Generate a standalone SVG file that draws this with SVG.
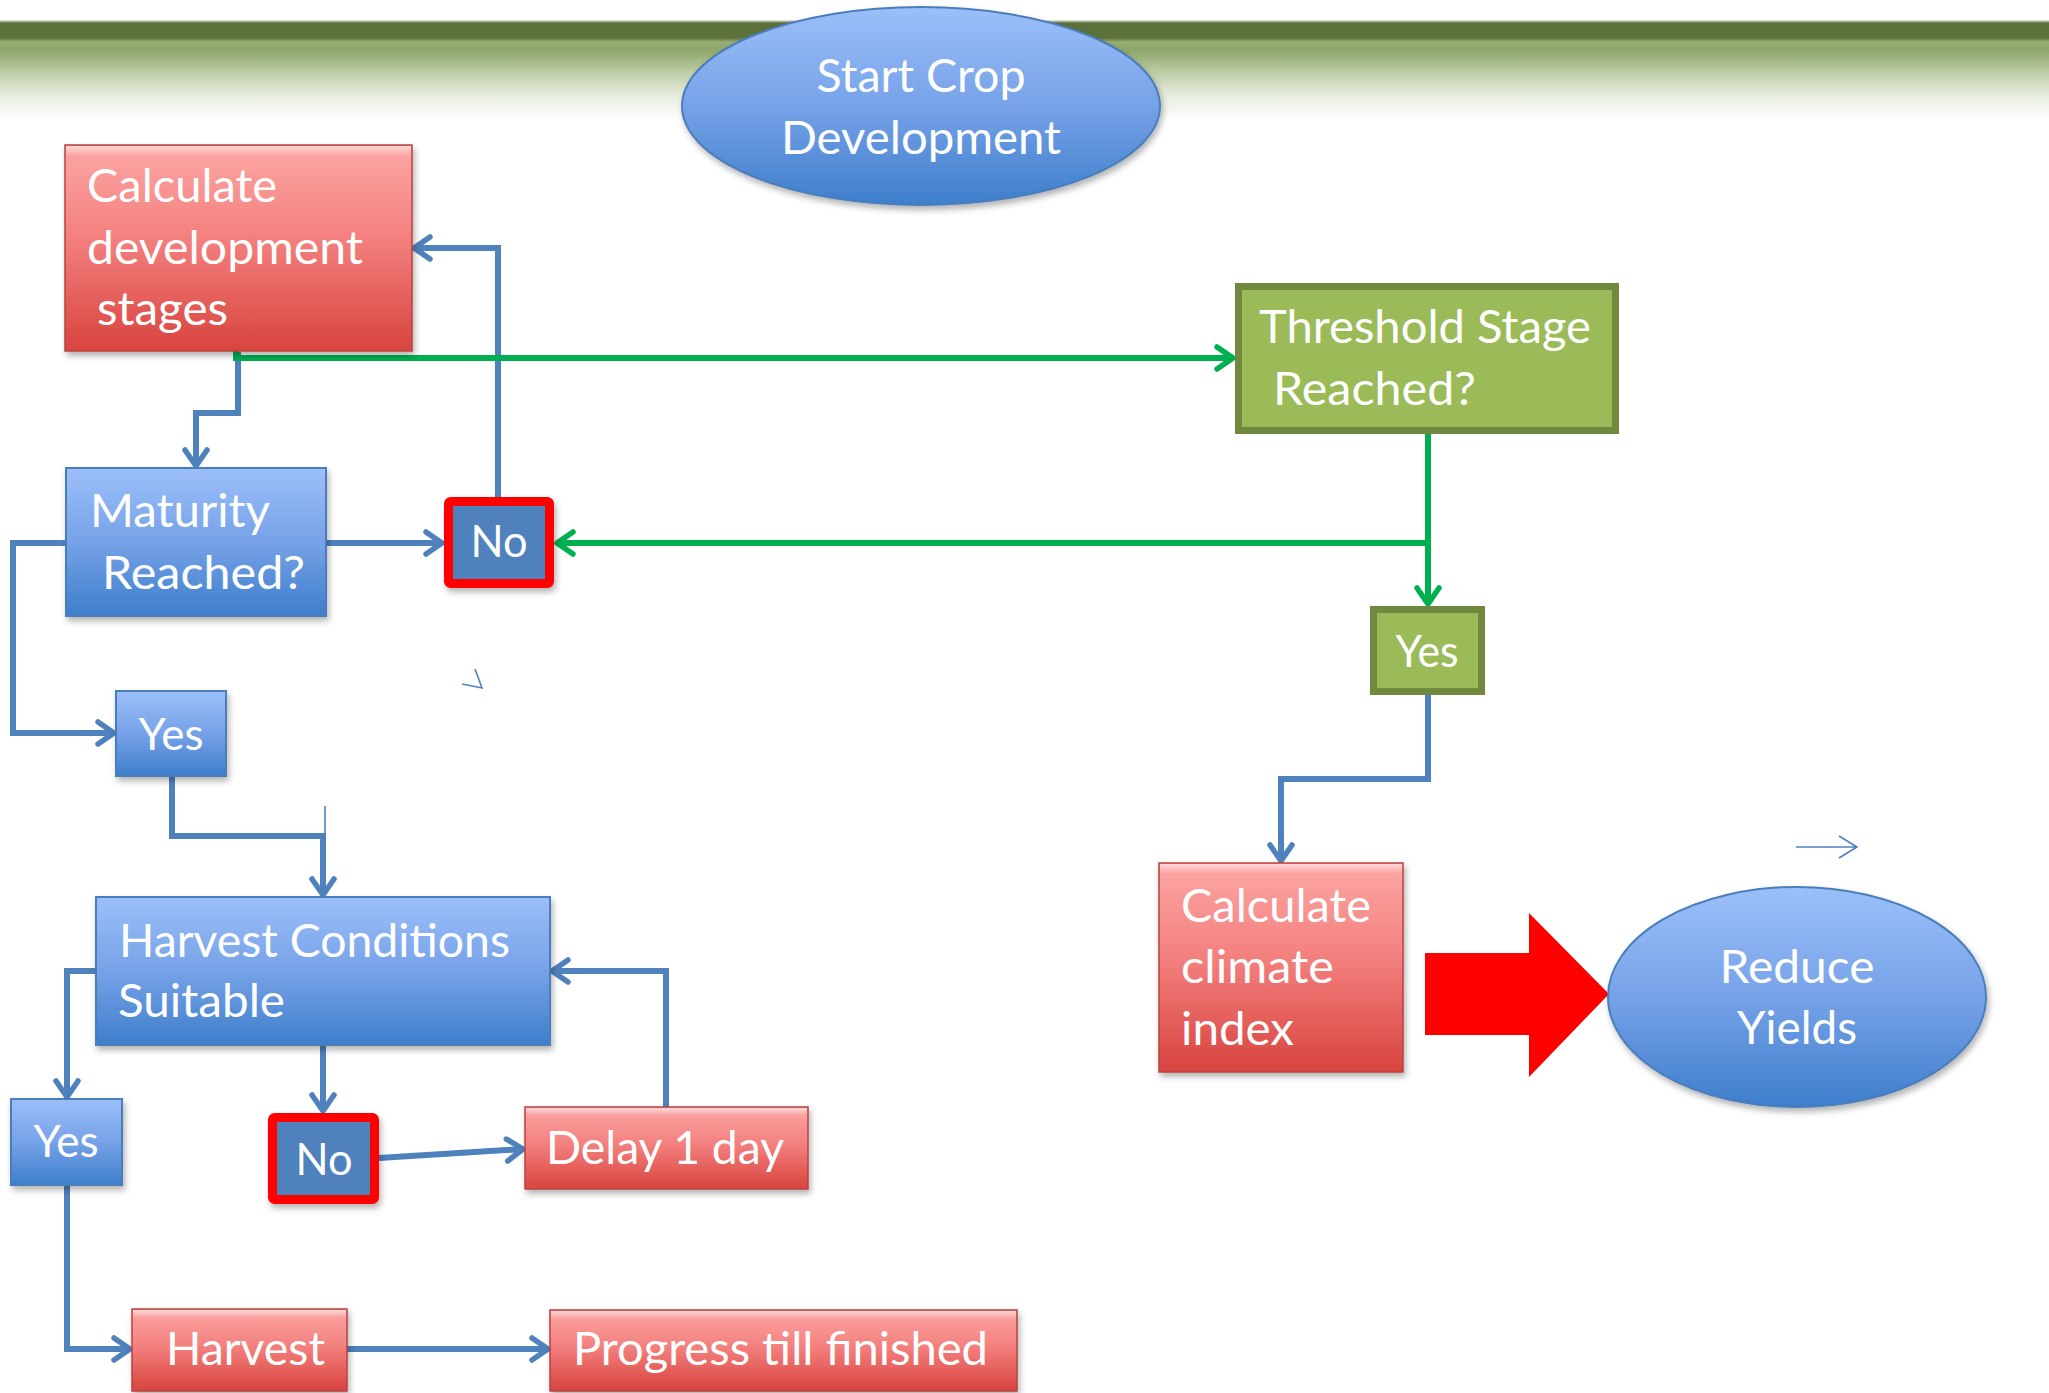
<svg xmlns="http://www.w3.org/2000/svg" width="2049" height="1393" viewBox="0 0 2049 1393">
<defs>
<linearGradient id="hdr" x1="0" y1="0" x2="0" y2="1">
<stop offset="0" stop-color="#f4f7ef"/>
<stop offset="0.03" stop-color="#5b6f3a"/>
<stop offset="0.18" stop-color="#5e723c"/>
<stop offset="0.22" stop-color="#9aae76"/>
<stop offset="0.3" stop-color="#8fa56a"/>
<stop offset="0.5" stop-color="#b9c9a0"/>
<stop offset="0.75" stop-color="#e6ecde"/>
<stop offset="1" stop-color="#ffffff"/>
</linearGradient>
<linearGradient id="red" x1="0" y1="0" x2="0" y2="1">
<stop offset="0" stop-color="#fca7a5"/>
<stop offset="0.45" stop-color="#f3807e"/>
<stop offset="1" stop-color="#d8443f"/>
</linearGradient>
<linearGradient id="blue" x1="0" y1="0" x2="0" y2="1">
<stop offset="0" stop-color="#9cbff9"/>
<stop offset="0.5" stop-color="#76a2e8"/>
<stop offset="1" stop-color="#3e7ecb"/>
</linearGradient>
<linearGradient id="hl" x1="0" y1="0" x2="0" y2="1">
<stop offset="0" stop-color="#ffffff" stop-opacity="0.55"/>
<stop offset="1" stop-color="#ffffff" stop-opacity="0"/>
</linearGradient>
<filter id="sh" x="-10%" y="-10%" width="130%" height="140%">
<feDropShadow dx="2" dy="4" stdDeviation="3" flood-color="#000" flood-opacity="0.3"/>
</filter>
<marker id="ab" viewBox="0 0 24 28" refX="20" refY="14" markerWidth="24" markerHeight="28" markerUnits="userSpaceOnUse" orient="auto">
<path d="M4,3 L20,14 L4,25" fill="none" stroke="#4f81bd" stroke-width="5.5" stroke-linecap="round" stroke-linejoin="round"/>
</marker>
<marker id="ag" viewBox="0 0 24 28" refX="20" refY="14" markerWidth="24" markerHeight="28" markerUnits="userSpaceOnUse" orient="auto">
<path d="M4,3 L20,14 L4,25" fill="none" stroke="#00b050" stroke-width="5.5" stroke-linecap="round" stroke-linejoin="round"/>
</marker>
</defs>
<style>
.t{font-family:Lato,"Liberation Sans",sans-serif;font-size:46px;fill:#ffffff;}
.s{font-family:Lato,"Liberation Sans",sans-serif;font-size:44px;fill:#ffffff;}
.rb{fill:url(#red);stroke:#b9423f;stroke-width:1.5;filter:url(#sh);}
.bb{fill:url(#blue);stroke:#4a7ebb;stroke-width:2;filter:url(#sh);}
.nb{fill:#4f81bd;stroke:#ff0000;stroke-width:9;filter:url(#sh);}
.gb{fill:#9bbb59;stroke:#71893f;stroke-width:7;}
.hl{fill:url(#hl);}
.cb{fill:none;stroke:#4f81bd;stroke-width:6;marker-end:url(#ab);}
.cg{fill:none;stroke:#00b050;stroke-width:6;}
.thin{fill:none;stroke:#4f81bd;stroke-width:1.6;}
</style>
<rect width="2049" height="1393" fill="#ffffff"/>
<rect x="0" y="20" width="2049" height="100" fill="url(#hdr)"/>

<g id="connectors">
<path class="cb" d="M238,352 V413 H196 V466"/>
<path class="cb" d="M498,497 V248 H414"/>
<path class="cb" d="M326,543 H442"/>
<path class="cb" d="M65,543 H13 V733 H114"/>
<path class="cb" d="M172,776 V836 H323 V895"/>
<path class="thin" d="M325,806 V836"/>
<path class="cb" d="M96,971 H67 V1097"/>
<path class="cb" d="M323,1045 V1111"/>
<path class="cb" d="M379,1158 L523,1149"/>
<path class="cb" d="M666,1107 V971 H552"/>
<path class="cb" d="M67,1185 V1349 H130"/>
<path class="cb" d="M347,1349 H548"/>
<path class="cb" d="M1428,695 V779 H1281 V861"/>
<path class="cg" d="M236,350 V358 H1233" marker-end="url(#ag)"/>
<path class="cg" d="M1428,433 V604" marker-end="url(#ag)"/>
<path class="cg" d="M1428,543 H557" marker-end="url(#ag)"/>
<path class="thin" d="M462,684 L482,688 L475,669"/>
<path class="thin" d="M1796,847 H1857 M1839,836 L1857,847 L1839,858"/>
</g>

<g id="block-arrow">
<polygon points="1425,953 1529,953 1529,913 1609,994 1529,1077 1529,1035 1425,1035" fill="#ff0000"/>
</g>

<g id="start">
<ellipse cx="921" cy="106" rx="239" ry="99" class="bb"/>
<text class="t" x="921" y="92" text-anchor="middle" textLength="209" lengthAdjust="spacingAndGlyphs">Start Crop</text>
<text class="t" x="921" y="154" text-anchor="middle" textLength="280" lengthAdjust="spacingAndGlyphs">Development</text>
</g>

<g id="calc-dev">
<rect x="65" y="145" width="347" height="206" class="rb"/>
<rect x="66" y="146" width="345" height="10" class="hl"/>
<text class="t" x="87" y="202" textLength="190" lengthAdjust="spacingAndGlyphs">Calculate</text>
<text class="t" x="87" y="264" textLength="276" lengthAdjust="spacingAndGlyphs">development</text>
<text class="t" x="97" y="325" textLength="131" lengthAdjust="spacingAndGlyphs">stages</text>
</g>

<g id="maturity">
<rect x="66" y="468" width="260" height="148" class="bb"/>
<text class="t" x="90" y="527" textLength="180" lengthAdjust="spacingAndGlyphs">Maturity</text>
<text class="t" x="102" y="589" textLength="203" lengthAdjust="spacingAndGlyphs">Reached?</text>
</g>

<g id="no1">
<rect x="448.5" y="501.5" width="101" height="82" rx="2" class="nb"/>
<text class="s" x="499" y="557" text-anchor="middle" textLength="57" lengthAdjust="spacingAndGlyphs">No</text>
</g>

<g id="threshold">
<rect x="1238.5" y="286.5" width="377" height="144" class="gb"/>
<text class="t" x="1259" y="343" textLength="332" lengthAdjust="spacingAndGlyphs">Threshold Stage</text>
<text class="t" x="1273" y="405" textLength="203" lengthAdjust="spacingAndGlyphs">Reached?</text>
</g>

<g id="yes-green">
<rect x="1373.5" y="609.5" width="108" height="82" class="gb"/>
<text class="s" x="1427" y="667" text-anchor="middle" textLength="63" lengthAdjust="spacingAndGlyphs">Yes</text>
</g>

<g id="yes1">
<rect x="116" y="691" width="110" height="85" class="bb"/>
<text class="s" x="171" y="750" text-anchor="middle" textLength="65" lengthAdjust="spacingAndGlyphs">Yes</text>
</g>

<g id="harvest-cond">
<rect x="96" y="897" width="454" height="148" class="bb"/>
<text class="t" x="119" y="957" textLength="391" lengthAdjust="spacingAndGlyphs">Harvest Conditions</text>
<text class="t" x="118" y="1017" textLength="167" lengthAdjust="spacingAndGlyphs">Suitable</text>
</g>

<g id="yes2">
<rect x="11" y="1099" width="111" height="86" class="bb"/>
<text class="s" x="66" y="1157" text-anchor="middle" textLength="65" lengthAdjust="spacingAndGlyphs">Yes</text>
</g>

<g id="no2">
<rect x="272.5" y="1117.5" width="102" height="82" rx="2" class="nb"/>
<text class="s" x="324" y="1175" text-anchor="middle" textLength="57" lengthAdjust="spacingAndGlyphs">No</text>
</g>

<g id="delay">
<rect x="525" y="1107" width="283" height="82" class="rb"/>
<rect x="526" y="1108" width="281" height="8" class="hl"/>
<text class="t" x="546" y="1164" textLength="238" lengthAdjust="spacingAndGlyphs">Delay 1 day</text>
</g>

<g id="harvest">
<rect x="132" y="1309" width="215" height="82" class="rb"/>
<rect x="133" y="1310" width="213" height="8" class="hl"/>
<text class="t" x="166" y="1365" textLength="159" lengthAdjust="spacingAndGlyphs">Harvest</text>
</g>

<g id="progress">
<rect x="550" y="1310" width="467" height="81" class="rb"/>
<rect x="551" y="1311" width="465" height="8" class="hl"/>
<text class="t" x="573" y="1365" textLength="415" lengthAdjust="spacingAndGlyphs">Progress till finished</text>
</g>

<g id="calc-climate">
<rect x="1159" y="863" width="244" height="209" class="rb"/>
<rect x="1160" y="864" width="242" height="10" class="hl"/>
<text class="t" x="1181" y="922" textLength="190" lengthAdjust="spacingAndGlyphs">Calculate</text>
<text class="t" x="1181" y="983" textLength="153" lengthAdjust="spacingAndGlyphs">climate</text>
<text class="t" x="1181" y="1045" textLength="113" lengthAdjust="spacingAndGlyphs">index</text>
</g>

<g id="reduce">
<ellipse cx="1797" cy="997" rx="189" ry="110" class="bb"/>
<text class="t" x="1797" y="983" text-anchor="middle" textLength="155" lengthAdjust="spacingAndGlyphs">Reduce</text>
<text class="t" x="1797" y="1044" text-anchor="middle" textLength="120" lengthAdjust="spacingAndGlyphs">Yields</text>
</g>
</svg>
